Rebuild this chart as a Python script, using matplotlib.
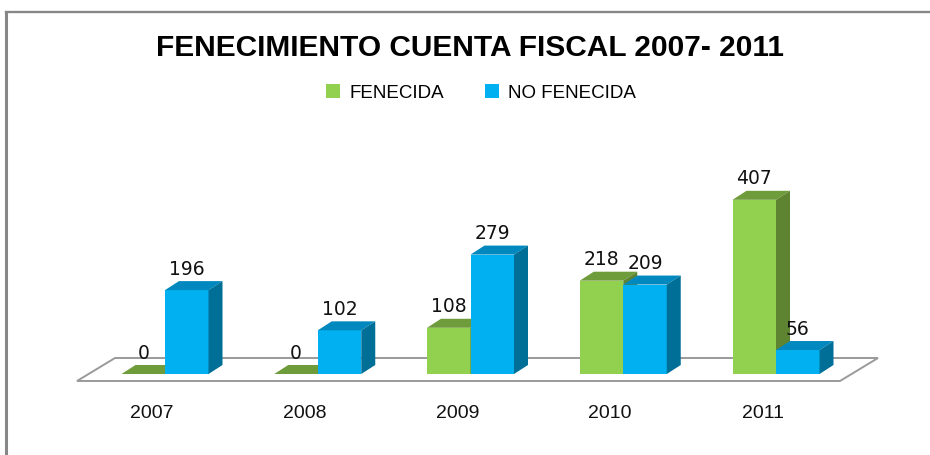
import matplotlib
matplotlib.use("Agg")
import matplotlib.pyplot as plt
from matplotlib.patches import Polygon
from matplotlib.lines import Line2D

years = ['2007', '2008', '2009', '2010', '2011']
fenecida = [0, 0, 108, 218, 407]
no_fenecida = [196, 102, 279, 209, 56]

W, H = 930, 455
# pixel scale of the plot area
px_cat = 152.75       # pixels per category
px_val = 0.428        # pixels per unit of value
x0_px = 165           # pixel of the first category
base_px = 81          # baseline, pixels from bottom

bar_w = 43.5 / px_cat
dx = 14 / px_cat      # depth of the 3d bars
dy = 9 / px_val

green = ('#92D050', '#6F9C3B', '#5E8431')
blue = ('#00B0F0', '#0088BF', '#006F98')

fig = plt.figure(figsize=(W / 100, H / 100), dpi=100)
fig.patch.set_facecolor('white')
ax = fig.add_axes([0, 0, 1, 1])
ax.set_xlim(-x0_px / px_cat, (W - x0_px) / px_cat)
ax.set_ylim(-base_px / px_val, (H - base_px) / px_val)
ax.axis('off')

# floor of the chart
n = len(years)
fl = -88 / px_cat
fr = (n - 1) + 64 / px_cat
front_y = -7 / px_val
back_y = 16 / px_val
shift = 38 / px_cat
floor = Polygon([(fl, front_y), (fr, front_y), (fr + shift, back_y), (fl + shift, back_y)],
                closed=True, facecolor='white', edgecolor='#9A9A9A', linewidth=1.4, zorder=1)
ax.add_patch(floor)


def bar3d(x, v, cols, z, label=None):
    c = ax.bar(x, v, width=bar_w, align='edge', color=cols[0], linewidth=0,
               zorder=z, label=label)
    x1 = x + bar_w
    top = Polygon([(x, v), (x1, v), (x1 + dx, v + dy), (x + dx, v + dy)],
                  closed=True, facecolor=cols[1], edgecolor='none', zorder=z + 0.1)
    side = Polygon([(x1, 0), (x1, v), (x1 + dx, v + dy), (x1 + dx, dy)],
                   closed=True, facecolor=cols[2], edgecolor='none', zorder=z + 0.2)
    ax.add_patch(top)
    ax.add_patch(side)
    return c


handles = []
for i in range(n):
    z = 2 + i
    hg = bar3d(i - bar_w, fenecida[i], green, z, 'FENECIDA')
    hb = bar3d(i, no_fenecida[i], blue, z + 0.5, 'NO FENECIDA')
    if i == 0:
        handles = [hg, hb]
    for xc, v in ((i - bar_w / 2, fenecida[i]), (i + bar_w / 2, no_fenecida[i])):
        ax.annotate(str(v), (xc, v), xytext=(0, 15.1), textcoords='offset points',
                    ha='center', va='center', fontsize=13.5, color='#111111',
                    family='DejaVu Sans', zorder=20)
    # category labels sit under the front edge of the floor
    ax.annotate(years[i], (i, 0), xytext=(-9.5, -28.5), textcoords='offset points',
                ha='center', va='center', fontsize=14, color='#111111',
                family='Liberation Sans')

fig.text(470 / W, 1 - 48 / H, 'FENECIMIENTO CUENTA FISCAL 2007- 2011',
         ha='center', va='center', fontsize=21.5, fontweight='bold',
         family='Liberation Sans', color='black')

leg = fig.legend(handles=handles, labels=['FENECIDA', 'NO FENECIDA'], loc='center',
                 bbox_to_anchor=(481 / W, 1 - 93 / H), ncol=2, frameon=False,
                 handlelength=0.75, handleheight=0.75, handletextpad=0.5,
                 columnspacing=2.2, prop={'family': 'Liberation Sans', 'size': 13.5})

# outer frame
fig.add_artist(Line2D([6 / W, 1], [1 - 12 / H, 1 - 12 / H], color='#878787', linewidth=1.7))
fig.add_artist(Line2D([6 / W, 6 / W], [0, 1 - 12 / H], color='#878787', linewidth=2.2))

fig.savefig('out.png', dpi=100)
